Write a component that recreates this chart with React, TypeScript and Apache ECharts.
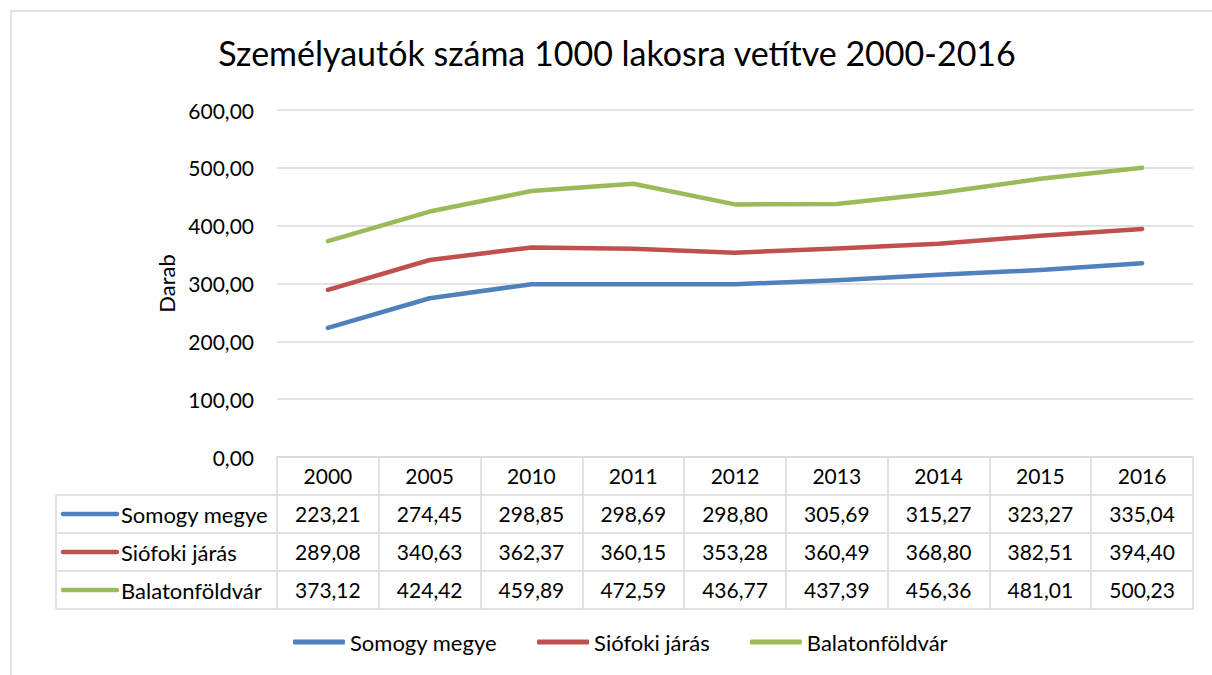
import React, { useEffect, useRef } from "react";
import * as echarts from "echarts";

const years = ["2000", "2005", "2010", "2011", "2012", "2013", "2014", "2015", "2016"];
const seriesNames = ["Somogy megye", "Siófoki járás", "Balatonföldvár"];
const somogy = [223.21, 274.45, 298.85, 298.69, 298.8, 305.69, 315.27, 323.27, 335.04];
const siofok = [289.08, 340.63, 362.37, 360.15, 353.28, 360.49, 368.8, 382.51, 394.4];
const balaton = [373.12, 424.42, 459.89, 472.59, 436.77, 437.39, 456.36, 481.01, 500.23];
const yMin = 0;
const yMax = 600;
const yStep = 100;
const titleText = "Személyautók száma 1000 lakosra vetítve 2000-2016";
const yName = "Darab";

const colors = ["#4f81bd", "#c0504d", "#9bbb59"];
const FONT = "Lato";
const NUM_SIZE = 21;
const TXT_SIZE = 22;
const GRID_LEFT = 277;
const GRID_RIGHT = 19;
const GRID_TOP = 110;
const GRID_BOTTOM = 218;
const ROW_H = 38;
const BORDER = "#d9d9d9";

const fmt = (v: number) => v.toFixed(2).replace(".", ",");

export default function App() {
  const ref = useRef<HTMLDivElement>(null);
  useEffect(() => {
    if (!ref.current) return;
    const chart = echarts.init(ref.current, null, { renderer: "svg" });
    const rows = [somogy, siofok, balaton];
    const zeroY = 675 - GRID_BOTTOM;

    const xAxes: any[] = [
      {
        type: "category",
        data: years,
        position: "bottom",
        boundaryGap: true,
        axisLine: { show: true, lineStyle: { color: BORDER, width: 1.5 } },
        axisTick: { show: true, length: ROW_H * 4, lineStyle: { color: BORDER, width: 1.5 } },
        axisLabel: { interval: 0, margin: 8, fontSize: NUM_SIZE, color: "#000", fontFamily: FONT },
        splitLine: { show: false },
      },
    ];
    rows.forEach((r, k) => {
      xAxes.push({
        type: "category",
        data: years,
        position: "bottom",
        offset: ROW_H * (k + 1),
        axisLine: { show: true, lineStyle: { color: BORDER, width: 1.5 } },
        axisTick: { show: false },
        axisLabel: {
          interval: 0,
          margin: 8,
          fontSize: NUM_SIZE,
          color: "#000",
          fontFamily: FONT,
          formatter: (_v: string, i: number) => fmt(r[i]),
        },
      });
    });
    xAxes.push({
      type: "category",
      data: years,
      position: "bottom",
      offset: ROW_H * 4,
      axisLine: { show: true, lineStyle: { color: BORDER, width: 1.5 } },
      axisTick: { show: false },
      axisLabel: { show: false },
    });

    const tableLeft = 56;
    const graphics: any[] = [
      {
        type: "rect",
        shape: { x: 11, y: 11, width: 1300, height: 800 },
        style: { fill: "none", stroke: BORDER, lineWidth: 1.5 },
        z: -10,
        silent: true,
      },
      {
        type: "text",
        x: 617,
        y: 52,
        style: {
          text: titleText,
          align: "center",
          verticalAlign: "middle",
          fontSize: 34,
          fontFamily: FONT,
          fill: "#000",
        },
      },
      {
        type: "line",
        shape: { x1: tableLeft, y1: zeroY + ROW_H, x2: tableLeft, y2: zeroY + ROW_H * 4 },
        style: { stroke: BORDER, lineWidth: 1.5 },
      },
    ];
    for (let k = 1; k <= 4; k++) {
      graphics.push({
        type: "line",
        shape: { x1: tableLeft, y1: zeroY + ROW_H * k, x2: GRID_LEFT, y2: zeroY + ROW_H * k },
        style: { stroke: BORDER, lineWidth: 1.5 },
      });
    }
    seriesNames.forEach((n, k) => {
      const cy = zeroY + ROW_H * (k + 1) + ROW_H / 2;
      graphics.push({
        type: "line",
        shape: { x1: 63, y1: cy, x2: 117, y2: cy },
        style: { stroke: colors[k], lineWidth: 4.5, lineCap: "round" },
      });
      graphics.push({
        type: "text",
        x: 121,
        y: cy,
        style: { text: n, verticalAlign: "middle", fontSize: TXT_SIZE, fontFamily: FONT, fill: "#000" },
      });
    });

    chart.setOption({
      animation: false,
      backgroundColor: "#fff",
      color: colors,
      grid: { left: GRID_LEFT, right: GRID_RIGHT, top: GRID_TOP, bottom: GRID_BOTTOM, containLabel: false },
      xAxis: xAxes,
      yAxis: {
        type: "value",
        min: yMin,
        max: yMax,
        interval: yStep,
        name: yName,
        nameLocation: "middle",
        nameRotate: 90,
        nameGap: 82,
        nameTextStyle: { fontSize: TXT_SIZE, fontFamily: FONT, color: "#000" },
        axisLine: { show: false },
        axisTick: { show: false },
        axisLabel: { margin: 23, fontSize: NUM_SIZE, fontFamily: FONT, color: "#000", formatter: (v: number) => fmt(v) },
        splitLine: { lineStyle: { color: BORDER, width: 1.5 } },
      },
      legend: {
        data: seriesNames,
        left: 288,
        top: 626,
        icon: "roundRect",
        itemWidth: 52,
        itemHeight: 5,
        itemGap: 40,
        textStyle: { fontSize: TXT_SIZE, fontFamily: FONT, color: "#000" },
      },
      graphic: graphics,
      series: rows.map((r, k) => ({
        name: seriesNames[k],
        type: "line",
        data: r,
        xAxisIndex: 0,
        symbol: "none",
        lineStyle: { width: 4.5, color: colors[k], cap: "round", join: "round" },
      })),
    });
    return () => chart.dispose();
  }, []);
  return (
    <div
      ref={ref}
      style={{ position: "absolute", left: 0, top: 0, width: 1212, height: 675, background: "#fff" }}
    />
  );
}
